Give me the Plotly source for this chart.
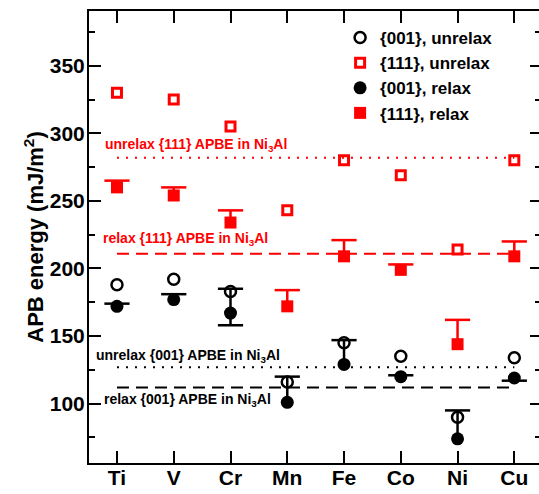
import plotly.graph_objects as go

categories = ['Ti', 'V', 'Cr', 'Mn', 'Fe', 'Co', 'Ni', 'Cu']
unrelax_001 = [188, 192, 183, 116, 145, 135, 90, 134]
unrelax_111 = [330, 325, 305, 243, 280, 269, 214, 280]
relax_001 = [172, 177, 167, 101, 129, 120, 74, 119]
relax_111 = [260, 254, 234, 172, 209, 199, 144, 209]
relax_001_err_plus = [2, 4, 18, 19, 18, 1, 21, 0]
relax_001_err_minus = [0, 0, 9, 0, 0, 0, 0, 2]
relax_111_err_plus = [5, 6, 9, 12, 12, 4, 18, 11]
relax_111_err_minus = [0, 0, 0, 0, 0, 0, 0, 0]

ni3al_unrelax_111 = 282
ni3al_relax_111 = 211
ni3al_unrelax_001 = 127
ni3al_relax_001 = 112

RED = '#ff0000'
BLACK = '#000000'
FONT = 'Liberation Sans, Arial, Helvetica, sans-serif'

fig = go.Figure()

# reference lines for Ni3Al
ref_lines = [
    (ni3al_unrelax_111, RED, '2px,7px'),
    (ni3al_relax_111, RED, '12px,7px'),
    (ni3al_unrelax_001, BLACK, '2px,7px'),
    (ni3al_relax_001, BLACK, '12px,7px'),
]
for val, col, dash in ref_lines:
    fig.add_trace(go.Scatter(x=[categories[0], categories[-1]], y=[val, val], mode='lines',
                             line=dict(color=col, width=2, dash=dash),
                             showlegend=False, hoverinfo='skip'))

# error bar caps
def caps(vals, plus, minus):
    xs, ys = [], []
    for c, v, p, m in zip(categories, vals, plus, minus):
        if p > 0:
            xs.append(c); ys.append(v + p)
        if m > 0:
            xs.append(c); ys.append(v - m)
    return xs, ys

for vals, plus, minus, col in [(relax_001, relax_001_err_plus, relax_001_err_minus, BLACK),
                               (relax_111, relax_111_err_plus, relax_111_err_minus, RED)]:
    cx, cy = caps(vals, plus, minus)
    fig.add_trace(go.Scatter(x=cx, y=cy, mode='markers',
                             marker=dict(symbol='line-ew', size=18, color=col,
                                         line=dict(color=col, width=2.5)),
                             showlegend=False, hoverinfo='skip'))

fig.add_trace(go.Scatter(x=categories, y=unrelax_001, mode='markers', name='{001}, unrelax',
                         marker=dict(symbol='circle-open', size=11, color=BLACK,
                                     line=dict(color=BLACK, width=2.5))))
fig.add_trace(go.Scatter(x=categories, y=unrelax_111, mode='markers', name='{111}, unrelax',
                         marker=dict(symbol='square-open', size=9, color=RED,
                                     line=dict(color=RED, width=3))))
fig.add_trace(go.Scatter(x=categories, y=relax_001, mode='markers', name='{001}, relax',
                         marker=dict(symbol='circle', size=13, color=BLACK),
                         error_y=dict(type='data', symmetric=False, array=relax_001_err_plus,
                                      arrayminus=relax_001_err_minus, width=0,
                                      thickness=2.5, color=BLACK)))
fig.add_trace(go.Scatter(x=categories, y=relax_111, mode='markers', name='{111}, relax',
                         marker=dict(symbol='square', size=12, color=RED),
                         error_y=dict(type='data', symmetric=False, array=relax_111_err_plus,
                                      arrayminus=relax_111_err_minus, width=0,
                                      thickness=2.5, color=RED)))

# invisible trace for right-side ticks
fig.add_trace(go.Scatter(x=categories, y=relax_111, yaxis='y2', mode='markers',
                         marker=dict(opacity=0), showlegend=False, hoverinfo='skip'))

annotations = [
    dict(text='unrelax {111} APBE in Ni<sub>3</sub>Al', x=-0.25, y=291.5, color=RED),
    dict(text='relax {111} APBE in Ni<sub>3</sub>Al', x=-0.28, y=221.5, color=RED),
    dict(text='unrelax {001} APBE in Ni<sub>3</sub>Al', x=-0.41, y=135, color=BLACK),
    dict(text='relax {001} APBE in Ni<sub>3</sub>Al', x=-0.26, y=102.5, color=BLACK),
]
for a in annotations:
    fig.add_annotation(text=a['text'], x=a['x'], y=a['y'], xref='x', yref='y',
                       xanchor='left', yanchor='middle', showarrow=False,
                       font=dict(family=FONT, size=14, weight='bold', color=a['color']))

YR = [56.1, 390.5]
fig.update_layout(
    width=539, height=494,
    margin=dict(l=89, r=0, t=11, b=31),
    plot_bgcolor='white', paper_bgcolor='white',
    font=dict(family=FONT, color=BLACK),
    xaxis=dict(type='category', categoryorder='array', categoryarray=categories,
               range=[-0.493, 7.435], showline=True, linecolor=BLACK, linewidth=2,
               mirror='ticks', ticks='inside', ticklen=12, tickwidth=2, tickcolor=BLACK,
               showgrid=False, zeroline=False, ticklabelstandoff=-5,
               tickfont=dict(family=FONT, size=21, weight='bold')),
    yaxis=dict(range=YR, showline=True, linecolor=BLACK, linewidth=2,
               ticks='inside', ticklen=12, tickwidth=2, tickcolor=BLACK,
               tick0=0, dtick=50, showgrid=False, zeroline=False, ticklabelstandoff=-2,
               minor=dict(ticks='inside', ticklen=6, tickwidth=2, tickcolor=BLACK, dtick=25, showgrid=False),
               tickfont=dict(family=FONT, size=21, weight='bold'),
               title=dict(text='APB energy (mJ/m<sup>2</sup>)',
                          font=dict(family=FONT, size=22, weight='bold'), standoff=0)),
    yaxis2=dict(range=YR, overlaying='y', side='right', showline=False,
                ticks='inside', ticklen=9, tickwidth=2, tickcolor=BLACK,
                tick0=0, dtick=50, showgrid=False, zeroline=False, showticklabels=False,
                minor=dict(ticks='inside', ticklen=4, tickwidth=2, tickcolor=BLACK, dtick=25, showgrid=False)),
    legend=dict(x=0.558, y=0.98, xanchor='left', yanchor='top', bgcolor='rgba(0,0,0,0)',
                font=dict(family=FONT, size=17, weight='bold')),
    showlegend=True,
)

fig.write_html('out.html', config={'displayModeBar': False},
               post_script=["document.body.style.margin='0';document.body.style.padding='0';document.documentElement.style.overflow='hidden';"])
